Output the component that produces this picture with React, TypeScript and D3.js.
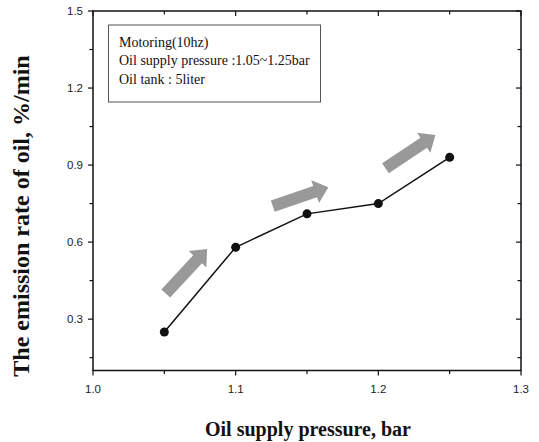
import React, { useEffect, useRef } from 'react';
import * as d3 from 'd3';

const pressure = [1.05, 1.1, 1.15, 1.2, 1.25];
const emission = [0.25, 0.58, 0.71, 0.75, 0.93];

// gray trend arrows, [x0, y0, x1, y1] in data units
const arrows = [
  [1.051, 0.40, 1.080, 0.573],
  [1.126, 0.74, 1.165, 0.814],
  [1.205, 0.888, 1.240, 1.017],
];

const xTicks = [1.0, 1.1, 1.2, 1.3];
const xMinor = [1.05, 1.15, 1.25];
const yTicks = [0.3, 0.6, 0.9, 1.2, 1.5];
const yMinor = [0.15, 0.45, 0.75, 1.05, 1.35];

const legendLines = ['Motoring(10hz)', 'Oil supply pressure :1.05~1.25bar', 'Oil tank : 5liter'];

const dims = { width: 539, height: 442, left: 93, right: 521, top: 11, bottom: 370.5 };

const App = () => {
  const ref = useRef<SVGSVGElement>(null);

  useEffect(() => {
    if (!ref.current) return;
    const svg = d3.select(ref.current);
    svg.selectAll('*').remove();

    const x = d3.scaleLinear().domain([1.0, 1.3]).range([dims.left, dims.right]);
    const y = d3.scaleLinear().domain([0.1, 1.5]).range([dims.bottom, dims.top]);

    const axisColor = '#111';
    const g = svg.append('g');

    // frame
    g.append('rect')
      .attr('x', dims.left).attr('y', dims.top)
      .attr('width', dims.right - dims.left).attr('height', dims.bottom - dims.top)
      .attr('fill', 'none').attr('stroke', axisColor).attr('stroke-width', 1.5);

    // bottom ticks (outward) + top ticks (inward)
    const xAll = [...xTicks.map(v => ({ v, major: true })), ...xMinor.map(v => ({ v, major: false }))];
    xAll.forEach(t => {
      const len = t.major ? 5 : 3.5;
      g.append('line').attr('x1', x(t.v)).attr('x2', x(t.v))
        .attr('y1', dims.bottom).attr('y2', dims.bottom + len)
        .attr('stroke', axisColor).attr('stroke-width', 1.2);
      g.append('line').attr('x1', x(t.v)).attr('x2', x(t.v))
        .attr('y1', dims.top).attr('y2', dims.top + len)
        .attr('stroke', axisColor).attr('stroke-width', 1.2);
    });
    xTicks.forEach(v => {
      g.append('text').attr('x', x(v)).attr('y', dims.bottom + 22.5)
        .attr('text-anchor', 'middle')
        .attr('font-family', 'Liberation Sans, Arial, sans-serif')
        .attr('font-size', 11.5).attr('fill', '#222')
        .text(v.toFixed(1));
    });

    // left ticks (outward) + right ticks (inward)
    const yAll = [...yTicks.map(v => ({ v, major: true })), ...yMinor.map(v => ({ v, major: false }))];
    yAll.forEach(t => {
      const len = t.major ? 5 : 3.5;
      g.append('line').attr('y1', y(t.v)).attr('y2', y(t.v))
        .attr('x1', dims.left - len).attr('x2', dims.left)
        .attr('stroke', axisColor).attr('stroke-width', 1.2);
      g.append('line').attr('y1', y(t.v)).attr('y2', y(t.v))
        .attr('x1', dims.right - len).attr('x2', dims.right)
        .attr('stroke', axisColor).attr('stroke-width', 1.2);
    });
    yTicks.forEach(v => {
      g.append('text').attr('x', dims.left - 10).attr('y', y(v) + 4)
        .attr('text-anchor', 'end')
        .attr('font-family', 'Liberation Sans, Arial, sans-serif')
        .attr('font-size', 11.5).attr('fill', '#222')
        .text(v.toFixed(1));
    });

    // arrows
    arrows.forEach(([x0, y0, x1, y1]) => {
      const px0 = x(x0), py0 = y(y0), px1 = x(x1), py1 = y(y1);
      const ang = Math.atan2(py1 - py0, px1 - px0);
      const len = Math.hypot(px1 - px0, py1 - py0);
      const hw = 6, headW = 12, headL = 14;
      const pts: [number, number][] = [
        [0, -hw], [len - headL, -hw], [len - headL, -headW], [len, 0],
        [len - headL, headW], [len - headL, hw], [0, hw],
      ];
      g.append('polygon')
        .attr('points', pts.map(p => p.join(',')).join(' '))
        .attr('transform', `translate(${px0},${py0}) rotate(${ang * 180 / Math.PI})`)
        .attr('fill', '#999');
    });

    // series
    const line = d3.line<number>().x((_, i) => x(pressure[i])).y(d => y(d));
    g.append('path').datum(emission).attr('d', line)
      .attr('fill', 'none').attr('stroke', '#111').attr('stroke-width', 1.5);
    g.selectAll('circle.pt').data(emission).join('circle')
      .attr('class', 'pt')
      .attr('cx', (_, i) => x(pressure[i])).attr('cy', d => y(d))
      .attr('r', 4.5).attr('fill', '#111');

    // legend box
    g.append('rect').attr('x', 108.5).attr('y', 25).attr('width', 212).attr('height', 77)
      .attr('fill', 'white').attr('stroke', '#555').attr('stroke-width', 1);
    legendLines.forEach((s, i) => {
      g.append('text').attr('x', 119).attr('y', 47 + i * 18.3)
        .attr('font-family', 'Liberation Serif, Times New Roman, serif')
        .attr('font-size', 14).attr('fill', '#111')
        .text(s);
    });

    // axis titles
    g.append('text').attr('x', 308).attr('y', 436)
      .attr('text-anchor', 'middle')
      .attr('font-family', 'Liberation Serif, Times New Roman, serif')
      .attr('font-weight', 'bold').attr('font-size', 20).attr('fill', '#111')
      .text('Oil supply pressure, bar');
    g.append('text')
      .attr('transform', `translate(29, 216) rotate(-90)`)
      .attr('text-anchor', 'middle')
      .attr('font-family', 'Liberation Serif, Times New Roman, serif')
      .attr('font-weight', 'bold').attr('font-size', 24).attr('fill', '#111')
      .text('The emission rate of oil, %/min');
  }, []);

  return (
    <svg ref={ref} width={dims.width} height={dims.height}
      style={{ position: 'absolute', left: 0, top: 0, background: 'white' }} />
  );
};

export default App;
